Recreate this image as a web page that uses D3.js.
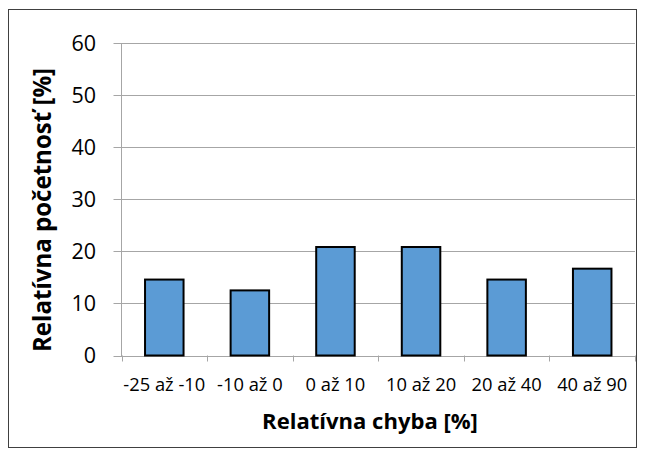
<!DOCTYPE html>
<html><head><meta charset="utf-8">
<script src="https://cdn.jsdelivr.net/npm/d3@7"></script>
<style>body{margin:0;background:#fff}</style>
</head><body>
<svg id="c" width="645" height="457"></svg>
<script>
const categories = ["-25 až -10", "-10 až 0", "0 až 10", "10 až 20", "20 až 40", "40 až 90"];
const values = [14.58, 12.5, 20.83, 20.83, 14.58, 16.67];
const yTicks = [0, 10, 20, 30, 40, 50, 60];
const xTitle = "Relatívna chyba [%]";
const yTitle = "Relatívna početnosť [%]";

const svg = d3.select("#c");
const font = "'Open Sans', sans-serif";
svg.append("rect").attr("x", 8.5).attr("y", 9.5).attr("width", 628).attr("height", 438)
  .attr("fill", "#fff").attr("stroke", "#404040").attr("stroke-width", 1);

const L = 121.5, R = 635, T = 43, B = 355.5;
const x = d3.scaleBand().domain(categories).range([L, R]).paddingInner(0.55).paddingOuter(0.275);
const y = d3.scaleLinear().domain([0, 60]).range([B, T]);

// gridlines
svg.append("g").selectAll("line").data(yTicks).join("line")
  .attr("x1", L - 8).attr("x2", R).attr("y1", d => Math.round(y(d)) + 0.5).attr("y2", d => Math.round(y(d)) + 0.5)
  .attr("stroke", "#a6a6a6").attr("stroke-width", 1);
// y axis line
svg.append("line").attr("x1", L).attr("x2", L).attr("y1", T).attr("y2", B + 0.5)
  .attr("stroke", "#a6a6a6");
// x ticks
const step = (R - L) / categories.length;
svg.append("g").selectAll("line").data(d3.range(categories.length + 1)).join("line")
  .attr("x1", i => Math.round(L + i * step) + 0.5).attr("x2", i => Math.round(L + i * step) + 0.5)
  .attr("y1", B).attr("y2", B + 6).attr("stroke", "#a6a6a6");

// bars
svg.append("g").selectAll("rect").data(values).join("rect")
  .attr("x", (d, i) => x(categories[i])).attr("width", x.bandwidth())
  .attr("y", d => y(d)).attr("height", d => y(0) - y(d))
  .attr("fill", "#5b9bd5").attr("stroke", "#000").attr("stroke-width", 2);

function fit(sel, w) {
  sel.each(function () {
    const len = this.getComputedTextLength();
    const fs = parseFloat(this.getAttribute("font-size"));
    if (len > 0) this.setAttribute("font-size", (fs * w / len).toFixed(2));
  });
}

// y tick labels
svg.append("g").selectAll("text").data(yTicks).join("text")
  .attr("x", 96).attr("y", d => y(d)).attr("dy", "0.36em").attr("text-anchor", "end")
  .attr("font-family", font).attr("font-size", 21.5).attr("fill", "#000").text(d => d);

// x tick labels
const xl = svg.append("g").selectAll("text").data(categories).join("text")
  .attr("x", d => x(d) + x.bandwidth() / 2).attr("y", 391).attr("text-anchor", "middle")
  .attr("font-family", font).attr("font-size", 17).attr("fill", "#000").text(d => d);
const first = xl.filter((d, i) => i === 0);
const l0 = first.node().getComputedTextLength();
xl.attr("font-size", (17 * 82 / l0).toFixed(2));

// titles
svg.append("text").attr("x", 370).attr("y", 429).attr("text-anchor", "middle")
  .attr("font-family", font).attr("font-size", 21).attr("font-weight", "bold").text(xTitle)
  .call(fit, 216);
svg.append("text").attr("transform", "translate(51,210) rotate(-90)").attr("text-anchor", "middle")
  .attr("font-family", font).attr("font-size", 21).attr("font-weight", "bold").text(yTitle)
  .call(fit, 284);
</script>
</body></html>
